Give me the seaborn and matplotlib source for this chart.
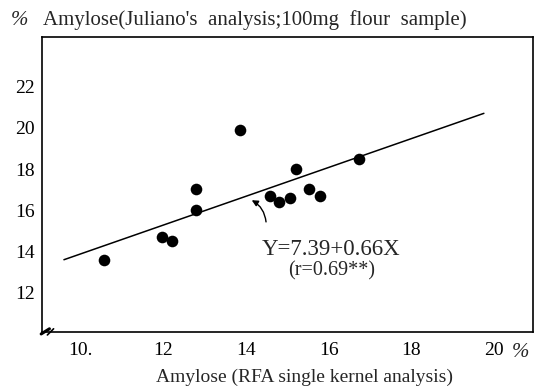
import matplotlib
matplotlib.use("Agg")
import matplotlib.pyplot as plt
import seaborn as sns
import pandas as pd

# Data
rfa_x = [10.58, 11.96, 12.22, 12.79, 12.79, 13.86, 14.58, 14.81, 15.06, 15.22, 15.53, 15.78, 16.74]
juliano_y = [13.61, 14.69, 14.50, 17.05, 16.03, 19.90, 16.68, 16.40, 16.60, 18.02, 17.03, 16.70, 18.47]
line_x = [9.6, 19.75]
line_y = [13.6, 20.7]
x_major = [10, 12, 14, 16, 18, 20]
x_labels = ["10.", "12", "14", "16", "18", "20"]
x_minor = [11, 13, 15, 17, 19]
y_ticks = [12, 14, 16, 18, 20, 22]
y_labels = ["12", "14", "16", "18", "20", "22"]

sns.set_theme(style="white")
plt.rcParams["font.family"] = ["Liberation Serif", "DejaVu Serif"]

df = pd.DataFrame({"x": rfa_x, "y": juliano_y})
lf = pd.DataFrame({"x": line_x, "y": line_y})

fig = plt.figure(figsize=(5.35, 3.9), dpi=100)
ax = fig.add_axes([0.0785, 0.149, 0.918, 0.756])

sns.lineplot(data=lf, x="x", y="y", ax=ax, color="black", linewidth=1.1)
sns.scatterplot(data=df, x="x", y="y", ax=ax, color="black", s=70, edgecolor="black", linewidth=0, zorder=3)

ax.set_xlim(9.07, 20.94)
ax.set_ylim(10.1, 24.4)
ax.set_xticks(x_major)
ax.set_xticklabels(x_labels, fontsize=14)
ax.set_xticks(x_minor, minor=True)
ax.set_yticks(y_ticks)
ax.set_yticklabels(y_labels, fontsize=14)
ax.tick_params(axis="both", which="both", direction="in", length=5, width=1.2, colors="black", pad=7)
ax.tick_params(axis="y", pad=5)
for s in ax.spines.values():
    s.set_visible(True)
    s.set_color("black")
    s.set_linewidth(1.2)

ax.set_xlabel("Amylose (RFA single kernel analysis)", fontsize=14, va="center")
ax.xaxis.set_label_coords(0.534, -0.153)
ax.set_ylabel("")

fig.text(0.037, 0.948, "%", fontsize=15, style="italic", ha="center", va="center")
fig.text(0.080, 0.948, "Amylose(Juliano's  analysis;100mg  flour  sample)", fontsize=15,
         ha="left", va="center")
fig.text(0.972, 0.097, "%", fontsize=15, style="italic", ha="center", va="center")

ax.annotate("", xy=(14.08, 16.55), xytext=(14.49, 15.3),
            arrowprops=dict(arrowstyle="-|>", color="black", lw=1.0,
                            connectionstyle="arc3,rad=0.3", mutation_scale=9))
ax.text(16.05, 14.1, "Y=7.39+0.66X", fontsize=16.5, ha="center", va="center")
ax.text(16.08, 13.05, "(r=0.69**)", fontsize=14.5, ha="center", va="center")

# axis break mark
ax.plot([9.05, 9.25], [10.0, 10.25], color="black", lw=2.2, clip_on=False)
ax.plot([9.2, 9.35], [9.95, 10.25], color="black", lw=1.2, clip_on=False)

fig.savefig("out.png", dpi=100)
